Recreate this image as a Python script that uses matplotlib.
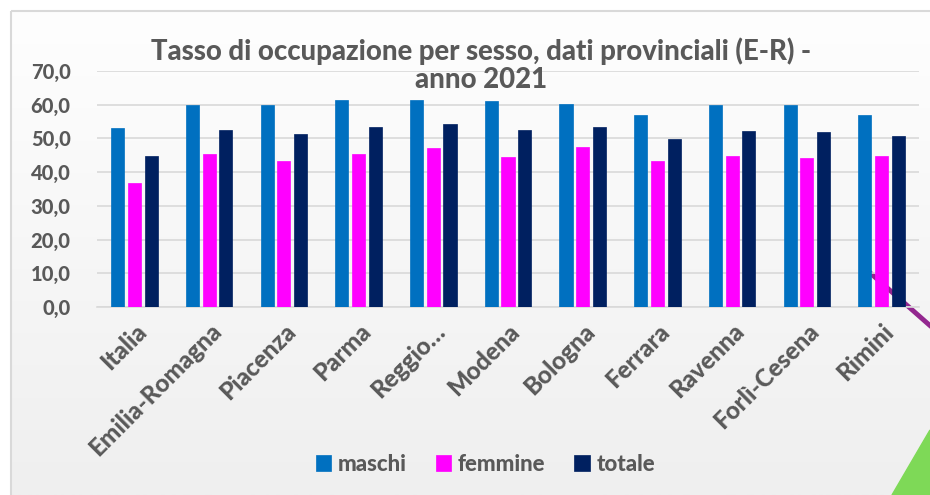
import numpy as np
import matplotlib
matplotlib.use("Agg")
import matplotlib.pyplot as plt
import matplotlib.patches as patches
from matplotlib.lines import Line2D
from matplotlib import font_manager as fm

# pick a heavy Lato file directly, so the weight is surely applied
lato = {f.weight: f.fname for f in fm.fontManager.ttflist
        if f.name == "Lato" and f.style == "normal"}
heavy = lato.get(800) or lato.get(700)
if heavy:
    def fp(size):
        return fm.FontProperties(fname=heavy, size=size)
else:
    def fp(size):
        return fm.FontProperties(family="DejaVu Sans", weight="bold", size=size)

# data
province = ["Italia", "Emilia-Romagna", "Piacenza", "Parma", "Reggio…", "Modena",
            "Bologna", "Ferrara", "Ravenna", "Forlì-Cesena", "Rimini"]
maschi = [53.2, 60.0, 60.0, 61.3, 61.3, 61.1, 60.2, 56.9, 60.0, 60.0, 56.9]
femmine = [36.7, 45.4, 43.4, 45.4, 47.2, 44.5, 47.4, 43.2, 44.9, 44.3, 44.7]
totale = [44.7, 52.5, 51.3, 53.3, 54.2, 52.5, 53.4, 49.9, 52.3, 51.9, 50.6]
serie = ["maschi", "femmine", "totale"]
colori = ["#0070c0", "#ff00ff", "#002060"]
yticks = [0, 10, 20, 30, 40, 50, 60, 70]

text_col = "#595959"

fig = plt.figure(figsize=(9.3, 4.95), dpi=100)

# background of the chart frame (light gradient) and border
bg = fig.add_axes([0, 0, 1, 1], zorder=-10)
bg.set_xlim(0, 930)
bg.set_ylim(495, 0)
bg.axis("off")
grad = np.linspace(0, 1, 256).reshape(-1, 1)
bg.imshow(grad, extent=[11, 930, 495, 11], cmap=matplotlib.colors.LinearSegmentedColormap.from_list(
    "g", ["#fefefe", "#efefef"]), aspect="auto", zorder=0)
bg.add_patch(patches.Rectangle((11, 11), 940, 500, fill=False, edgecolor="#d9d9d9", linewidth=1.5, zorder=1))
# slide decorations in the corner
bg.add_line(Line2D([868, 935], [271, 330], color="#93278f", linewidth=3.5, solid_capstyle="round", zorder=5))
bg.add_patch(patches.Polygon([[892, 495], [930, 430], [930, 495]], closed=True, color="#7ed957", zorder=5))

ax = fig.add_axes([97 / 930, 1 - 307 / 495, 822 / 930, (307 - 71) / 495])
ax.set_facecolor("none")

x = np.arange(len(province))
step = 0.224
width = 0.175
for i, (vals, nome, col) in enumerate(zip([maschi, femmine, totale], serie, colori)):
    ax.bar(x + (i - 1) * step, vals, width, color=col, label=nome, zorder=3,
           edgecolor=col, linewidth=0.5)

ax.set_xlim(-0.5, len(province) - 0.5)
ax.set_ylim(0, 70)
ax.set_yticks(yticks)
ax.set_yticklabels([f"{v:.1f}".replace(".", ",") for v in yticks],
                   fontproperties=fp(14.5), color=text_col)
ax.yaxis.grid(True, color="#d9d9d9", linewidth=1.2, zorder=0)
ax.set_axisbelow(True)
for s in ["top", "right", "left"]:
    ax.spines[s].set_visible(False)
ax.spines["bottom"].set_color("#d9d9d9")
ax.spines["bottom"].set_linewidth(1.2)
ax.tick_params(axis="both", length=0)
ax.tick_params(axis="y", pad=19)

ax.set_xticks(x)
ax.set_xticklabels(province, rotation=45, ha="right", rotation_mode="anchor",
                   fontproperties=fp(17.5), color=text_col)
ax.tick_params(axis="x", pad=9)

fig.text(0.517, 0.868, "Tasso di occupazione per sesso, dati provinciali (E-R) -\nanno 2021",
         ha="center", va="center", fontproperties=fp(19.8), color=text_col,
         linespacing=1.1)

leg = fig.legend(loc="center", bbox_to_anchor=(0.522, 0.062), ncol=3, frameon=False,
                 handlelength=0.7, handleheight=0.7, handletextpad=0.3, columnspacing=1.3,
                 prop=fp(16))
for t in leg.get_texts():
    t.set_color(text_col)

fig.savefig("out.png", dpi=100)
